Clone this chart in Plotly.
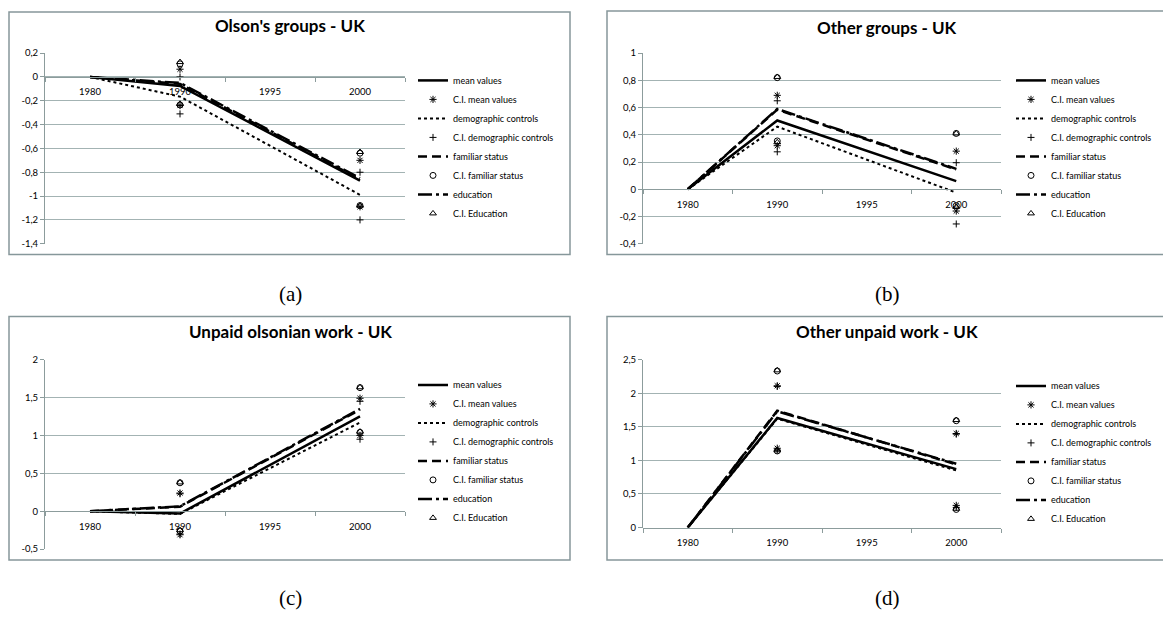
import plotly.graph_objects as go

# ---- data -------------------------------------------------------------
categories = ["1980", "1990", "1995", "2000"]
line_years = ["1980", "1990", "2000"]
ci_years = ["1990", "1990", "2000", "2000"]

# (a) Olson's groups - UK
a_mean = [0, -0.075, -0.87]
a_demo = [0, -0.165, -0.99]
a_fam = [0, -0.058, -0.86]
a_edu = [0, -0.05, -0.85]
a_ci_mean = [0.065, -0.24, -0.70, -1.09]
a_ci_demo = [0.0, -0.31, -0.80, -1.20]
a_ci_fam = [0.11, -0.235, -0.64, -1.08]
a_ci_edu = [0.125, -0.225, -0.63, -1.08]

# (b) Other groups - UK
b_mean = [0, 0.505, 0.06]
b_demo = [0, 0.46, -0.025]
b_fam = [0, 0.585, 0.145]
b_edu = [0, 0.59, 0.15]
b_ci_mean = [0.69, 0.32, 0.28, -0.16]
b_ci_demo = [0.65, 0.275, 0.195, -0.255]
b_ci_fam = [0.82, 0.355, 0.41, -0.12]
b_ci_edu = [0.825, 0.345, 0.41, -0.13]

# (c) Unpaid olsonian work - UK
c_mean = [0, -0.03, 1.25]
c_demo = [0, -0.035, 1.17]
c_fam = [0, 0.06, 1.34]
c_edu = [0, 0.065, 1.35]
c_ci_mean = [0.24, -0.31, 1.49, 1.0]
c_ci_demo = [0.23, -0.30, 1.45, 0.95]
c_ci_fam = [0.375, -0.26, 1.63, 1.04]
c_ci_edu = [0.38, -0.25, 1.635, 1.05]

# (d) Other unpaid work - UK
d_mean = [0, 1.63, 0.87]
d_demo = [0, 1.62, 0.85]
d_fam = [0, 1.74, 0.94]
d_edu = [0, 1.73, 0.95]
d_ci_mean = [2.11, 1.18, 1.40, 0.33]
d_ci_demo = [2.10, 1.15, 1.39, 0.30]
d_ci_fam = [2.33, 1.14, 1.59, 0.27]
d_ci_edu = [2.34, 1.15, 1.60, 0.28]

titles = ["Olson's groups - UK", "Other groups - UK",
          "Unpaid olsonian work - UK", "Other unpaid work - UK"]
captions = ["(a)", "(b)", "(c)", "(d)"]
y_ticks = [
    [0.2, 0, -0.2, -0.4, -0.6, -0.8, -1, -1.2, -1.4],
    [1, 0.8, 0.6, 0.4, 0.2, 0, -0.2, -0.4],
    [2, 1.5, 1, 0.5, 0, -0.5],
    [2.5, 2, 1.5, 1, 0.5, 0],
]
line_names = ["mean values", "demographic controls", "familiar status", "education"]
ci_names = ["C.I. mean values", "C.I. demographic controls",
            "C.I. familiar status", "C.I. Education"]

panels = [
    ([a_mean, a_demo, a_fam, a_edu], [a_ci_mean, a_ci_demo, a_ci_fam, a_ci_edu]),
    ([b_mean, b_demo, b_fam, b_edu], [b_ci_mean, b_ci_demo, b_ci_fam, b_ci_edu]),
    ([c_mean, c_demo, c_fam, c_edu], [c_ci_mean, c_ci_demo, c_ci_fam, c_ci_edu]),
    ([d_mean, d_demo, d_fam, d_edu], [d_ci_mean, d_ci_demo, d_ci_fam, d_ci_edu]),
]

# ---- layout geometry (pixels) -----------------------------------------
W, H = 1163, 618
plot_boxes = [(45, 405, 48, 242), (643, 1001, 48, 242),
              (45, 405, 360, 553), (643, 1001, 360, 531)]
frames = [(9, 570, 6, 253), (607, 1166, 5, 253),
          (9, 570, 316, 564), (607, 1166, 316, 564)]
title_pos = [(290, 20), (887, 22), (290, 331), (887, 331)]
caption_pos = [(290, 293), (887, 293), (290, 603), (887, 603)]
legend_pos = [(413, 61), (1011, 61), (413, 371), (1011, 372)]

def fx(px):
    return px / W

def fy(py):
    return 1 - py / H

line_styles = [
    dict(color="black", width=2.5, dash="solid"),
    dict(color="black", width=2.0, dash="dot"),
    dict(color="black", width=2.5, dash="9px,5px"),
    dict(color="black", width=2.5, dash="14px,4px,3px,4px"),
]
marker_styles = [
    dict(symbol="asterisk-open", size=6, color="black", line=dict(width=1, color="black")),
    dict(symbol="cross-thin-open", size=5, color="black", line=dict(width=1, color="black")),
    dict(symbol="circle-open", size=6, color="black", line=dict(width=1, color="black")),
    dict(symbol="triangle-up-open", size=6, color="black", line=dict(width=1, color="black")),
]

GRID = "#a3b3b3"
AXIS = "#8c9c9c"
FONT = "Lato"

fig = go.Figure()
layout = dict(
    width=W, height=H, margin=dict(l=0, r=0, t=0, b=0),
    paper_bgcolor="white", plot_bgcolor="white",
    showlegend=True, shapes=[], annotations=[],
    font=dict(family=FONT, color="black"),
)

for i, (lines, cis) in enumerate(panels):
    n = "" if i == 0 else str(i + 1)
    xa, ya = "x" + n, "y" + n
    leg = "legend" + n
    x0, x1, y0, y1 = plot_boxes[i]
    ticks = y_ticks[i]
    ymin, ymax = min(ticks), max(ticks)

    # interleave line series and their confidence-interval markers
    for k in range(4):
        fig.add_trace(go.Scatter(
            x=line_years, y=lines[k], mode="lines", name=line_names[k],
            line=line_styles[k], xaxis=xa, yaxis=ya, legend=leg,
            legendgroup=f"{i}-l{k}", connectgaps=True, hoverinfo="skip"))
        fig.add_trace(go.Scatter(
            x=ci_years, y=cis[k], mode="markers", name=ci_names[k],
            marker=marker_styles[k], xaxis=xa, yaxis=ya, legend=leg,
            legendgroup=f"{i}-m{k}", hoverinfo="skip"))

    dom_y = [fy(y1), fy(y0)]
    zero_frac = (0 - ymin) / (ymax - ymin)
    layout["xaxis" + n] = dict(
        domain=[fx(x0), fx(x1)], anchor="free",
        position=dom_y[0] + zero_frac * (dom_y[1] - dom_y[0]),
        type="category", categoryorder="array", categoryarray=categories,
        range=[-0.5, 3.5], tickson="boundaries", ticks="outside", ticklen=4,
        tickcolor=AXIS, showline=True, linecolor=AXIS, linewidth=1,
        showgrid=False, zeroline=False, ticklabelstandoff=6,
        tickfont=dict(family=FONT, size=9.5, color="black"), fixedrange=True,
    )
    layout["yaxis" + n] = dict(
        domain=dom_y, anchor=xa, range=[ymin, ymax],
        tickvals=ticks, ticktext=[("%g" % t).replace(".", ",") for t in ticks],
        ticks="outside", ticklen=4, tickcolor=AXIS,
        showline=True, linecolor=AXIS, linewidth=1,
        showgrid=True, gridcolor=GRID, gridwidth=1, zeroline=False,
        tickfont=dict(family=FONT, size=9.5, color="black"), fixedrange=True,
    )
    lx, ly = legend_pos[i]
    layout[leg] = dict(
        x=fx(lx), y=fy(ly), xanchor="left", yanchor="top",
        font=dict(family=FONT, size=9, color="black"),
        bgcolor="rgba(0,0,0,0)", itemwidth=30, tracegroupgap=0,
        traceorder="grouped",
    )

    fx0, fx1, fy0, fy1 = frames[i]
    layout["shapes"].append(dict(
        type="rect", xref="paper", yref="paper",
        x0=fx(fx0), x1=fx(fx1), y0=fy(fy1), y1=fy(fy0),
        line=dict(color="#86979a", width=1.5), fillcolor="rgba(0,0,0,0)", layer="below"))

    tx, ty = title_pos[i]
    layout["annotations"].append(dict(
        text="<b>" + titles[i] + "</b>", x=fx(tx), y=fy(ty), xref="paper", yref="paper",
        xanchor="center", yanchor="middle", showarrow=False,
        font=dict(family=FONT, size=17, color="black")))
    cx, cy = caption_pos[i]
    layout["annotations"].append(dict(
        text=captions[i], x=fx(cx), y=fy(cy), xref="paper", yref="paper",
        xanchor="center", yanchor="middle", showarrow=False,
        font=dict(family="Liberation Serif", size=21, color="black")))

fig.update_layout(**layout)
fig.write_html("out.html", config={"displayModeBar": False})
